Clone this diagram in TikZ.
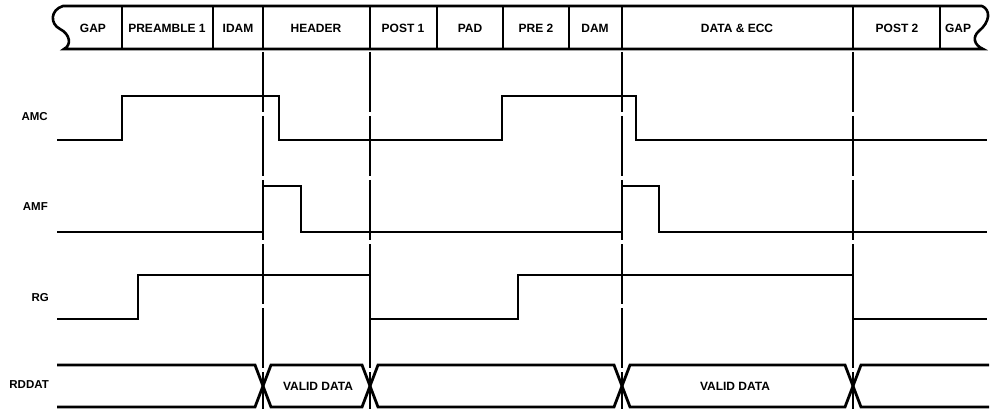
\documentclass[tikz,border=0pt]{standalone}
\usepackage{fontspec}
\setmainfont{Liberation Sans}
\tikzset{
wave/.style={line width=2.8pt, line join=miter},
frame/.style={line width=2.6pt},
marker/.style={line width=1.2pt, dash pattern=on 60pt off 4pt},
field/.style={font=\fontsize{12}{13}\selectfont\bfseries, inner sep=0pt},
signame/.style={font=\fontsize{11.5}{12}\selectfont\bfseries, anchor=east, inner sep=0pt},
}

\begin{document}
\begin{tikzpicture}[x=1pt,y=-1pt]
    \useasboundingbox (0,0) rectangle (991,409);
    % sector layout
    \draw[frame] (982,6) -- (63,6) .. controls (50,10) and (50,24) .. (60,29)
        .. controls (70,34) and (72,45) .. (64,49) -- (983,49)
        .. controls (974,45) and (972,37) .. (979,31)
        .. controls (990,22) and (991,10) .. (982,6);
    \draw[frame] (122,6) -- (122,49);
    \draw[frame] (213,6) -- (213,49);
    \draw[frame] (263,6) -- (263,49);
    \draw[frame] (370,6) -- (370,49);
    \draw[frame] (437,6) -- (437,49);
    \draw[frame] (503,6) -- (503,49);
    \draw[frame] (569,6) -- (569,49);
    \draw[frame] (622,6) -- (622,49);
    \draw[frame] (853,6) -- (853,49);
    \draw[frame] (940,6) -- (940,49);
    \node[field] (gap1) at (93,28) {GAP};
    \node[field] (pre1) at (167,28) {PREAMBLE 1};
    \node[field] (idam) at (238,28) {IDAM};
    \node[field] (hdr) at (316,28) {HEADER};
    \node[field] (post1) at (403,28) {POST 1};
    \node[field] (pad) at (470,28) {PAD};
    \node[field] (pre2) at (536,28) {PRE 2};
    \node[field] (dam) at (595,28) {DAM};
    \node[field] (data) at (737,28) {DATA \& ECC};
    \node[field] (post2) at (897,28) {POST 2};
    \node[field] (gap2) at (958,28) {GAP};

    % markers
    \draw[marker] (263,52) -- (263,409);
    \draw[marker] (370,52) -- (370,409);
    \draw[marker] (622,52) -- (622,409);
    \draw[marker] (853,52) -- (853,409);

    % signals
    \node[signame] (amc) at (48,117) {AMC};
    \node[signame] (amf) at (48,207) {AMF};
    \node[signame] (rg) at (49,298) {RG};
    \node[signame] (rddat) at (49,385) {RDDAT};

    \draw[wave] (57,140) -- (122,140) -- (122,96) -- (279,96) -- (279,140) -- (502,140)
        -- (502,96) -- (636,96) -- (636,140) -- (987,140);
    \draw[wave] (57,232) -- (263,232) -- (263,186) -- (301,186) -- (301,232) -- (622,232)
        -- (622,186) -- (659,186) -- (659,232) -- (987,232);
    \draw[wave] (57,319) -- (138,319) -- (138,275) -- (370,275) -- (370,319) -- (518,319)
        -- (518,275) -- (853,275) -- (853,319) -- (987,319);
    \draw[wave] (57,365) -- (255,365) -- (271,407) -- (362,407) -- (378,365) -- (614,365)
        -- (630,407) -- (845,407) -- (861,365) -- (989,365);
    \draw[wave] (57,407) -- (255,407) -- (271,365) -- (362,365) -- (378,407) -- (614,407)
        -- (630,365) -- (845,365) -- (861,407) -- (989,407);
    \node[field] (valid1) at (318,386) {VALID DATA};
    \node[field] (valid2) at (735,386) {VALID DATA};
\end{tikzpicture}
\end{document}
